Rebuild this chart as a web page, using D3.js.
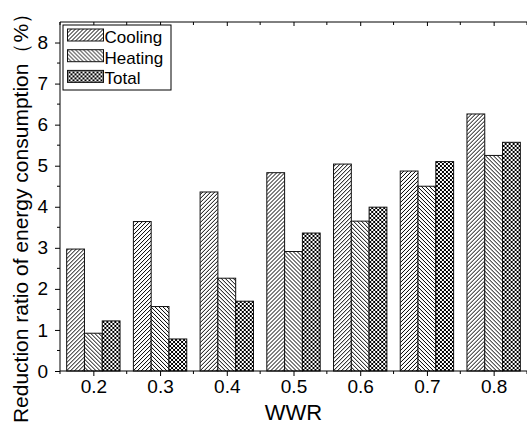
<!DOCTYPE html>
<html>
<head>
<meta charset="utf-8">
<script src="https://cdn.jsdelivr.net/npm/d3@7"></script>
<style>
  body { margin: 0; background: #fff; }
  text { font-family: Arial, "Liberation Sans", sans-serif; fill: #000; }
</style>
</head>
<body>
<div id="chart"></div>
<script>
// Data
const wwr = [0.2, 0.3, 0.4, 0.5, 0.6, 0.7, 0.8];
const seriesNames = ["Cooling", "Heating", "Total"];
const cooling = [2.97, 3.64, 4.36, 4.83, 5.04, 4.87, 6.26];
const heating = [0.92, 1.57, 2.26, 2.91, 3.65, 4.50, 5.25];
const total   = [1.22, 0.78, 1.70, 3.36, 3.99, 5.10, 5.57];
const yTicks = [0, 1, 2, 3, 4, 5, 6, 7, 8];

const W = 527, H = 430;
const margin = { top: 22, right: 0, bottom: 59, left: 60 };
const FONT = "Arial, 'Liberation Sans', sans-serif";

const svg = d3.select("#chart").append("svg")
  .attr("width", W).attr("height", H);

// hatch patterns
const defs = svg.append("defs");
function addPattern(id, size, d) {
  const p = defs.append("pattern")
    .attr("id", id)
    .attr("patternUnits", "userSpaceOnUse")
    .attr("width", size).attr("height", size);
  p.append("rect").attr("width", size).attr("height", size).attr("fill", "#fff");
  p.append("path").attr("d", d).attr("stroke", "#000").attr("stroke-width", 1).attr("fill", "none");
}
addPattern("p-cool", 4, "M-1,1 L1,-1 M0,4 L4,0 M3,5 L5,3");
addPattern("p-heat", 4, "M-1,3 L1,5 M0,0 L4,4 M3,-1 L5,1");
addPattern("p-total", 4, "M0,0 L4,4 M0,4 L4,0");

const fills = { Cooling: "url(#p-cool)", Heating: "url(#p-heat)", Total: "url(#p-total)" };

const x = d3.scaleLinear().domain([0.15, 0.85]).range([margin.left, W - margin.right]);
const y = d3.scaleLinear().domain([0, 8.5]).range([H - margin.bottom, margin.top]);

const groupW = (x(0.25) - x(0.15)) * 0.8;
const xSub = d3.scaleBand().domain(seriesNames).range([-groupW / 2, groupW / 2]);

const rows = wwr.map((w, i) => ({ w, Cooling: cooling[i], Heating: heating[i], Total: total[i] }));

const g = svg.append("g");
g.selectAll("g.grp")
  .data(rows)
  .join("g")
  .attr("class", "grp")
  .attr("transform", d => `translate(${x(d.w)},0)`)
  .selectAll("rect")
  .data(d => seriesNames.map(k => ({ k, v: d[k] })))
  .join("rect")
  .attr("x", d => xSub(d.k))
  .attr("width", xSub.bandwidth())
  .attr("y", d => y(d.v))
  .attr("height", d => y(0) - y(d.v))
  .attr("fill", d => fills[d.k])
  .attr("stroke", "#111")
  .attr("stroke-width", 1);

// axes
const xMinor = d3.range(0.15, 0.86, 0.1);
const bottomAxis = svg.append("g").attr("transform", `translate(0,${y(0)})`);
bottomAxis.call(d3.axisBottom(x).tickValues(wwr).tickFormat(d3.format(".1f")).tickSize(5).tickPadding(4))
  .call(a => a.select(".domain").attr("d", `M${margin.left},0H${W}`));
bottomAxis.selectAll("text").attr("font-size", 19).attr("font-family", FONT);
bottomAxis.selectAll(".minor").data(xMinor).join("line")
  .attr("class", "minor").attr("x1", d => x(d)).attr("x2", d => x(d))
  .attr("y1", 0).attr("y2", 3).attr("stroke", "#000");

const topAxis = svg.append("g").attr("transform", `translate(0,${margin.top})`);
topAxis.call(d3.axisBottom(x).tickValues(wwr).tickFormat("").tickSize(4))
  .call(a => a.select(".domain").attr("d", `M${margin.left},0H${W}`));
topAxis.selectAll(".minor").data(xMinor).join("line")
  .attr("class", "minor").attr("x1", d => x(d)).attr("x2", d => x(d))
  .attr("y1", 0).attr("y2", 3).attr("stroke", "#000");

const leftAxis = svg.append("g").attr("transform", `translate(${margin.left},0)`);
leftAxis.call(d3.axisLeft(y).tickValues(yTicks).tickSize(5).tickPadding(7))
  .call(a => a.select(".domain").attr("d", `M0,${y(0)}V${margin.top}`));
leftAxis.selectAll("text").attr("font-size", 19).attr("font-family", FONT);
leftAxis.selectAll(".minor").data(d3.range(0.5, 8.5, 1)).join("line")
  .attr("class", "minor").attr("x1", -3).attr("x2", 0)
  .attr("y1", d => y(d)).attr("y2", d => y(d)).attr("stroke", "#000");

// axis titles
svg.append("text")
  .attr("x", x(0.5)).attr("y", 420)
  .attr("text-anchor", "middle").attr("font-size", 22)
  .text("WWR");

svg.append("text")
  .attr("transform", `translate(28,213) rotate(-90)`)
  .attr("text-anchor", "middle").attr("font-size", 21)
  .text("Reduction ratio of energy consumption\uFF08%\uFF09");

// legend
const leg = svg.append("g").attr("transform", "translate(63,25)");
leg.append("rect").attr("width", 108).attr("height", 65)
  .attr("fill", "#fff").attr("stroke", "#000").attr("stroke-width", 1);
seriesNames.forEach((k, i) => {
  const r = leg.append("g").attr("transform", `translate(4.5,${4 + i * 20.7})`);
  r.append("rect").attr("width", 36).attr("height", 12)
    .attr("fill", fills[k]).attr("stroke", "#111");
  r.append("text").attr("x", 37).attr("y", 14).attr("font-size", 17).text(k);
});
</script>
</body>
</html>
